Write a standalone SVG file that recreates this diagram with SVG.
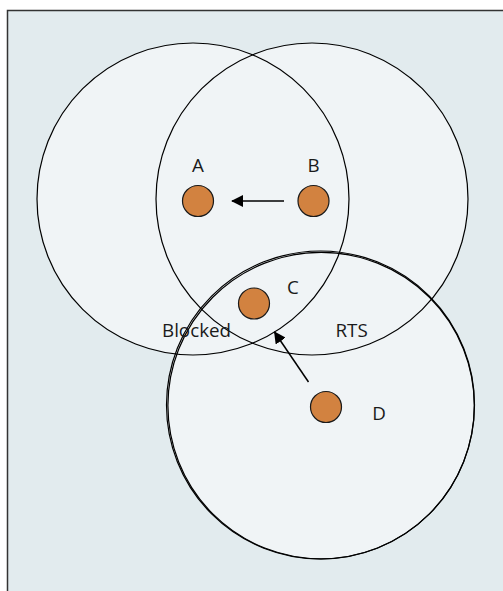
<svg xmlns="http://www.w3.org/2000/svg" width="503" height="591" viewBox="0 0 503 591">
<style>
.range{fill:#F0F4F6;stroke:none}
.ring{fill:none;stroke:#000;stroke-width:1.2}
.dot{fill:#D28240;stroke:#1a1a1a;stroke-width:1.2}
.lbl{font-family:"Open Sans","Noto Sans",sans-serif;font-size:18.8px;fill:#1a1a1a}
.conn{stroke:#000;stroke-width:1.5;fill:none;marker-end:url(#ah)}
</style>
<defs>
<marker id="ah" viewBox="0 0 12 12" refX="11" refY="6" markerWidth="12" markerHeight="12" markerUnits="userSpaceOnUse" orient="auto">
<path d="M0,0 L17,6 L0,12 Z" transform="scale(0.7,1)"/>
</marker>
</defs>
<rect x="7.5" y="10.5" width="500" height="590" fill="#E2EBEE" stroke="#333" stroke-width="1.5"/>
<g id="ranges">
<circle class="range" cx="193" cy="199" r="156"/>
<circle class="range" cx="312" cy="199" r="156"/>
<circle class="range" cx="320.5" cy="405" r="154"/>
<circle class="ring" cx="193" cy="199" r="156"/>
<circle class="ring" cx="312" cy="199" r="156"/>
<circle class="ring" cx="320.5" cy="405" r="154"/>
<circle class="ring" cx="321.1" cy="405.6" r="153.2"/>
</g>
<g id="connectors">
<line class="conn" x1="284" y1="201" x2="232" y2="201"/>
<line class="conn" x1="308.5" y1="382" x2="274.5" y2="332"/>
</g>
<g id="A"><circle class="dot" cx="198" cy="201" r="15.5"/><text class="lbl" x="198" y="172" text-anchor="middle">A</text></g>
<g id="B"><circle class="dot" cx="313.5" cy="201" r="15.5"/><text class="lbl" x="313.5" y="172" text-anchor="middle">B</text></g>
<g id="C"><circle class="dot" cx="254" cy="303.5" r="15.5"/><text class="lbl" x="293" y="294" text-anchor="middle">C</text></g>
<g id="D"><circle class="dot" cx="326" cy="407" r="15.5"/><text class="lbl" x="379" y="420" text-anchor="middle">D</text></g>
<g id="labels">
<text class="lbl" x="162" y="337">Blocked</text>
<text class="lbl" x="335.5" y="337">RTS</text>
</g>
</svg>
